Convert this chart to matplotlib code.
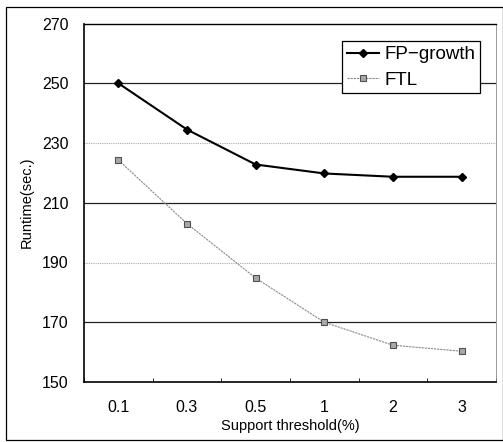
import matplotlib
matplotlib.use("Agg")
import matplotlib.pyplot as plt
from matplotlib.patches import Rectangle
import numpy as np

categories = ["0.1", "0.3", "0.5", "1", "2", "3"]
fp_growth = [250, 234.5, 222.8, 219.8, 218.7, 218.7]
ftl = [224.3, 203.0, 184.8, 170.0, 162.3, 160.3]
y_ticks = [150, 170, 190, 210, 230, 250, 270]

plt.rcParams['font.family'] = ['Liberation Sans', 'DejaVu Sans']

fig = plt.figure(figsize=(5.03, 4.42), dpi=100)
fig.patches.append(Rectangle((6/503, 2/442), 497/503, 433/442, transform=fig.transFigure,
                             fill=False, edgecolor='black', linewidth=0.9))
ax = fig.add_axes([84/503, 1 - 382/442, 412/503, (382 - 23.5)/442])

x = np.arange(len(categories))
for v in [170, 210, 250]:
    ax.axhline(v, color='#222222', linewidth=0.9, zorder=1)
for v in [190, 230]:
    ax.axhline(v, color='#aaaaaa', linewidth=0.8, linestyle=(0, (1, 1)), zorder=1)

ax.plot(x, fp_growth, color='black', linewidth=1.5, marker='D', markersize=4.5,
        markerfacecolor='black', markeredgecolor='black', label='FP\u2212growth', zorder=3)
ax.plot(x, ftl, color='#8a8a8a', linewidth=0.8, linestyle=(0, (2, 0.8)), marker='s', markersize=5,
        markerfacecolor='#a8a8a8', markeredgecolor='#505050', markeredgewidth=0.8,
        label='FTL', zorder=3)

ax.set_xlim(-0.5, len(categories) - 0.5)
ax.set_ylim(150, 270)
ax.set_yticks(y_ticks)
ax.set_xticks(x)
ax.set_xticklabels(categories)
ax.set_xticks(np.arange(-0.5, len(categories)), minor=True)
ax.tick_params(axis='x', which='major', length=0, pad=13, labelsize=11.5)
ax.tick_params(axis='x', which='minor', length=3, direction='in')
ax.tick_params(axis='y', length=0, pad=11, labelsize=11.5)
ax.set_xlabel('Support threshold(%)', fontsize=10.5, labelpad=3)
ax.set_ylabel('Runtime(sec.)', fontsize=10.5, labelpad=6)

for s in ['left', 'bottom']:
    ax.spines[s].set_linewidth(1.2)
ax.spines['top'].set_linewidth(1.0)
ax.spines['right'].set_linewidth(0.6)
ax.spines['right'].set_color('#888888')

leg = ax.legend(loc='upper right', bbox_to_anchor=(0.962, 0.95), fontsize=13.5, frameon=True,
                fancybox=False, edgecolor='black', framealpha=1, handlelength=1.7,
                borderpad=0.25, labelspacing=0.45, handletextpad=0.3, borderaxespad=0)
leg.get_frame().set_linewidth(0.9)

fig.savefig('out.png', dpi=100)
